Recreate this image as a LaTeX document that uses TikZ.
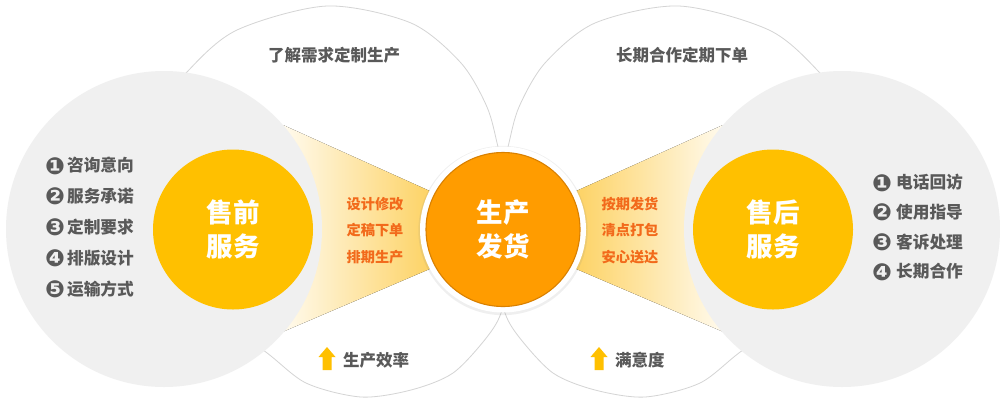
\documentclass[tikz,border=0pt]{standalone}
\usepackage{fontspec}
\newfontfamily\cjk{Noto Sans CJK SC}
\newfontfamily\djv{DejaVu Sans}
\newcommand\numdot[1]{\raisebox{-2.3pt}{\djv\fontsize{23.5}{24}\selectfont #1}}
\usetikzlibrary{shadows}
\definecolor{greyfill}{HTML}{F0F0F0}
\definecolor{outl}{HTML}{D4D4D4}
\definecolor{yel}{HTML}{FFC000}
\definecolor{org}{HTML}{FF9C00}
\definecolor{orgrim}{HTML}{D98000}
\definecolor{txtg}{HTML}{595959}
\definecolor{txto}{HTML}{F26A1B}
\definecolor{fnL}{HTML}{FFFBF0}
\definecolor{fnR}{HTML}{FDD263}
\begin{document}
\begin{tikzpicture}[x=1pt,y=-1pt,
  outline/.style={draw=outl, line width=0.8pt},
  greydisc/.style={circle, fill=greyfill, minimum size=316pt, inner sep=0pt},
  yeldisc/.style={circle, fill=yel, minimum size=160pt, inner sep=0pt, text=white,
    font=\cjk\bfseries\fontsize{26.5}{34}\selectfont, align=center},
  centerdisc/.style={circle, fill=org, draw=orgrim, line width=1.1pt, minimum size=154pt,
    inner sep=0pt, text=white, font=\cjk\bfseries\fontsize{26.5}{34}\selectfont, align=center},
  ringdisc/.style={circle, fill=white, minimum size=166pt, inner sep=0pt,
    drop shadow={opacity=0.12, shadow xshift=0pt, shadow yshift=-1pt, shadow scale=1.02}},
  listtext/.style={inner sep=0pt, text=txtg, align=left,
    font=\cjk\bfseries\fontsize{16.7}{30.8}\selectfont},
  headtext/.style={inner sep=0pt, text=txtg, font=\cjk\bfseries\fontsize{16.5}{20}\selectfont},
  funneltext/.style={inner sep=0pt, text=txto, align=center,
    font=\cjk\bfseries\fontsize{14.2}{26.5}\selectfont},
  uparrow/.pic={\fill[yel] (-8.5,10) -- (0,0) -- (8.5,10) -- (4.5,10) -- (4.5,23)
    -- (-4.5,23) -- (-4.5,10) -- cycle;}
]
\useasboundingbox (0,0) rectangle (1000,400);
\fill[white] (0,0) rectangle (1000,400);

% large outline shapes
\draw[outline] plot[smooth cycle] coordinates {(327,6) (411,23) (461,63) (487,107) (498,147)
  (510,200) (510,260) (502,310) (487,337) (453,373) (411,390) (361,397) (306,383) (263,350)
  (200,310) (145,230) (142,130) (187,72) (237,30)};
\draw[outline] plot[smooth cycle] coordinates {(679,6) (595,23) (545,63) (519,107) (508,147)
  (496,200) (496,260) (504,310) (519,337) (553,373) (595,390) (645,397) (700,383) (743,350)
  (806,310) (861,230) (864,130) (819,72) (769,30)};

% funnels
\fill[left color=fnL, right color=fnR] (283,125) -- (432,192) -- (432,268) -- (280,333) -- cycle;
\fill[left color=fnR, right color=fnL] (574,192) -- (723,125) -- (726,333) -- (574,268) -- cycle;

% grey discs
\node[greydisc] (gl) at (164,229) {};
\node[greydisc] (gr) at (842,229) {};

% yellow discs
\node[yeldisc] (pre) at (233,229.5) {售前\\服务};
\node[yeldisc] (post) at (773,229.5) {售后\\服务};

% center
\node[ringdisc] (ring) at (503,229.5) {};
\node[centerdisc] (prod) at (503,229.5) {生产\\发货};

% lists
\node[listtext, anchor=west] (llist) at (45,227.5)
  {\numdot{❶}\hspace{2pt}咨询意向\\\numdot{❷}\hspace{2pt}服务承诺\\\numdot{❸}\hspace{2pt}定制要求\\\numdot{❹}\hspace{2pt}排版设计\\\numdot{❺}\hspace{2pt}运输方式};
\node[listtext, anchor=west, font=\cjk\bfseries\fontsize{16.7}{29.7}\selectfont] (rlist) at (872,227.5)
  {\numdot{❶}\hspace{4pt}电话回访\\\numdot{❷}\hspace{4pt}使用指导\\\numdot{❸}\hspace{4pt}客诉处理\\\numdot{❹}\hspace{4pt}长期合作};

% funnel texts
\node[funneltext] (ftl) at (375,230.5) {设计修改\\定稿下单\\排期生产};
\node[funneltext] (ftr) at (630,230.5) {按期发货\\清点打包\\安心送达};

% top labels
\node[headtext] (tl) at (334,55) {了解需求定制生产};
\node[headtext] (tr) at (682,55) {长期合作定期下单};

% bottom labels
\pic at (327,347) {uparrow};
\node[headtext, anchor=west] (bl) at (343,360) {生产效率};
\pic at (599,347) {uparrow};
\node[headtext, anchor=west] (br) at (615,360) {满意度};
\end{tikzpicture}
\end{document}
